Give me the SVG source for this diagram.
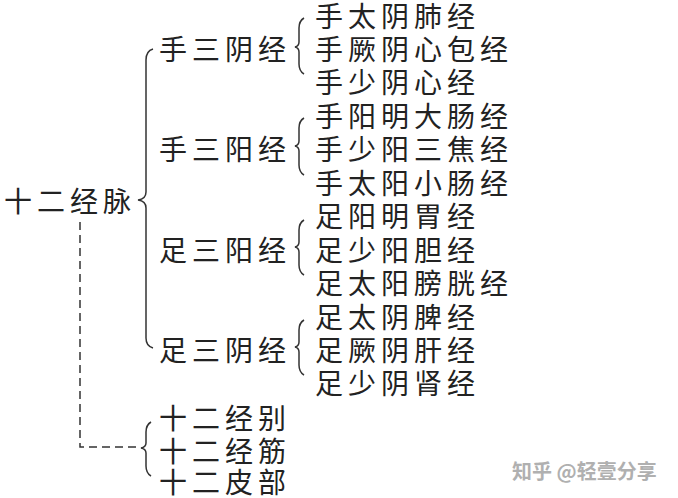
<svg xmlns="http://www.w3.org/2000/svg" width="678" height="498" viewBox="0 0 678 498">
<style>
.t{font-family:"Noto Sans CJK SC","Noto Sans CJK JP",sans-serif;font-size:28px;letter-spacing:5px;fill:#222;dominant-baseline:central}
.b{fill:none;stroke:#333;stroke-width:1.5}
.d{fill:none;stroke:#333;stroke-width:1.5;stroke-dasharray:8 5}
.w{font-family:"Noto Sans CJK SC",sans-serif;font-size:20px;fill:#b0b0b0;font-weight:bold;dominant-baseline:central}
</style>
<rect width="678" height="498" fill="#fff"/>
<g id="root"><text class="t" x="4" y="200">十二经脉</text></g>
<g id="shouyin"><text class="t" x="159" y="48">手三阴经</text></g>
<g id="shouyang"><text class="t" x="159" y="148">手三阳经</text></g>
<g id="zuyang"><text class="t" x="159" y="249">足三阳经</text></g>
<g id="zuyin"><text class="t" x="159" y="349">足三阴经</text></g>
<g id="leaves">
<text class="t" x="315" y="15">手太阴肺经</text>
<text class="t" x="315" y="48">手厥阴心包经</text>
<text class="t" x="315" y="81">手少阴心经</text>
<text class="t" x="315" y="115">手阳明大肠经</text>
<text class="t" x="315" y="148">手少阳三焦经</text>
<text class="t" x="315" y="182">手太阳小肠经</text>
<text class="t" x="315" y="215">足阳明胃经</text>
<text class="t" x="315" y="249">足少阳胆经</text>
<text class="t" x="315" y="282">足太阳膀胱经</text>
<text class="t" x="315" y="316">足太阴脾经</text>
<text class="t" x="315" y="349">足厥阴肝经</text>
<text class="t" x="315" y="382">足少阴肾经</text>
</g>
<g id="others">
<text class="t" x="159" y="417">十二经别</text>
<text class="t" x="159" y="450">十二经筋</text>
<text class="t" x="159" y="481">十二皮部</text>
</g>
<g id="connectors">
<path class="b" d="M153,49 Q146,51 146,60 L146,192 Q146,199 138,200 Q146,201 146,208 L146,338 Q146,346 153,348"/>
<path class="b" d="M304,18 Q299,21 299,28 L299,42 Q299,46 295,47 Q299,48 299,52 L299,64 Q299,71 304,74"/>
<path class="b" d="M304,118 Q299,121 299,128 L299,141 Q299,145 295,146 Q299,147 299,151 L299,165 Q299,172 304,175"/>
<path class="b" d="M304,220 Q299,223 299,230 L299,242 Q299,246 295,247 Q299,248 299,252 L299,265 Q299,272 304,275"/>
<path class="b" d="M304,320 Q299,323 299,330 L299,342 Q299,346 295,347 Q299,348 299,352 L299,365 Q299,372 304,375"/>
<path class="b" d="M151,422 Q146,425 146,432 L146,443 Q146,447 141,448 Q146,449 146,453 L146,466 Q146,473 151,476"/>
<path class="d" d="M80,222 L80,447 L139,447"/>
</g>
<text class="w" x="512" y="470">知乎 @轻壹分享</text>
</svg>
